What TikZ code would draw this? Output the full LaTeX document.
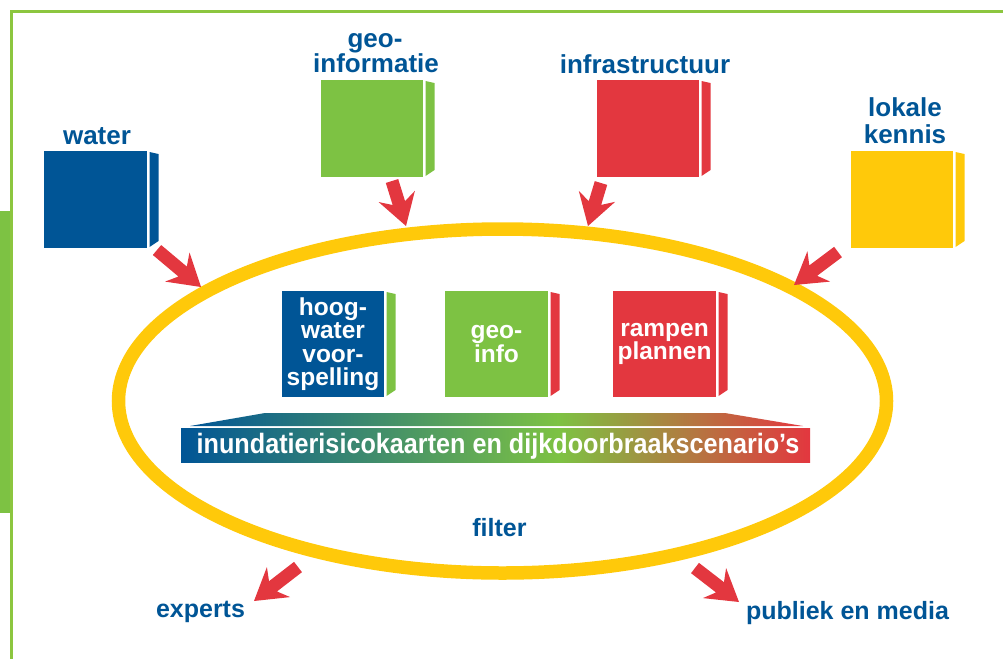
\documentclass[tikz,border=0pt]{standalone}
\usepackage{fontspec}
\setmainfont{Liberation Sans}
\usetikzlibrary{calc,shapes.geometric}
\definecolor{dblue}{HTML}{005596}
\definecolor{lgreen}{HTML}{7DC243}
\definecolor{rred}{HTML}{E3373F}
\definecolor{yyel}{HTML}{FFC90A}
\definecolor{framegreen}{HTML}{8CC63F}
\pgfdeclarehorizontalshading{bargrad}{100bp}{color(0bp)=(dblue); color(25bp)=(dblue); color(55bp)=(lgreen); color(75bp)=(rred); color(100bp)=(rred)}
\newcommand\mycube[8]{%
  \node[cubefront, fill=#6, minimum width=#4pt, minimum height=#5pt] (#1) at (#2,#3) {#8};
  \fill[#7] ($(#1.north east)+(2.5,1)$) -- ($(#1.north east)+(11.5,3)$) -- ($(#1.south east)+(11.5,-7)$) -- ($(#1.south east)+(2.5,-1)$) -- cycle;}
\newcommand\redarrow[2]{%
  \fill[rred] ($(#1)!6.5pt!90:(#2)$) -- ($(#2)!24pt!(#1)!6.5pt!-90:(#1)$) -- ($(#2)!31pt!(#1)!19pt!-90:(#1)$) -- (#2) -- ($(#2)!31pt!(#1)!19pt!90:(#1)$) -- ($(#2)!24pt!(#1)!6.5pt!90:(#1)$) -- ($(#1)!6.5pt!-90:(#2)$) -- cycle;}
\begin{document}
\begin{tikzpicture}[x=1pt,y=-1pt,
  cubefront/.style={anchor=north west, inner sep=0pt, outer sep=0pt, text=white, align=center, font=\fontsize{24.5}{23.5}\selectfont\bfseries},
  toplbl/.style={text=dblue, inner sep=0pt, anchor=base, font=\fontsize{26}{26}\selectfont\bfseries},
  botlbl/.style={text=dblue, inner sep=0pt, anchor=base, font=\fontsize{25}{25}\selectfont\bfseries}]
\useasboundingbox (0,0) rectangle (1003,659);
% frame
\draw[framegreen, line width=2.5pt] (1003,11.5) -- (11.5,11.5) -- (11.5,659);
\fill[lgreen] (0,211) rectangle (10,513);
% ellipse filter
\node[ellipse, draw=yyel, line width=13.5pt, minimum width=768pt, minimum height=344pt, inner sep=0pt] (filt) at (502.5,401) {};
% outer cubes
\mycube{water}{44}{151}{103}{97}{dblue}{dblue}{}
\mycube{geoinf}{321}{80}{102}{97}{lgreen}{lgreen}{}
\mycube{infra}{597}{80}{102}{97}{rred}{rred}{}
\mycube{lokaal}{851}{151}{102}{97}{yyel}{yyel}{}
% inner cubes
\mycube{hoog}{282}{291}{102}{106}{dblue}{lgreen}{hoog-\\water\\voor-\\spelling}
\mycube{geoinfo}{445}{291}{103}{106}{lgreen}{rred}{geo-\\info}
\mycube{rampen}{613}{291}{103}{106}{rred}{rred}{rampen\\plannen}
% labels
\node[toplbl] (lwater) at (97,144) {water};
\node[toplbl] (lgeo1) at (375,47.5) {geo-};
\node[toplbl] (lgeo2) at (376,72.5) {informatie};
\node[toplbl] (linfra) at (645,73) {infrastructuur};
\node[toplbl] (llok1) at (905,116) {lokale};
\node[toplbl] (llok2) at (905,143) {kennis};
\node[botlbl] (lexp) at (200.5,617) {experts};
\node[botlbl] (lpub) at (847.5,619) {publiek en media};
\node[botlbl] (lfilt) at (499.5,536) {filter};
% gradient bar
\shade[shading=bargrad] (190,426) -- (265,413) -- (725,413) -- (803,426) -- cycle;
\node[shade, shading=bargrad, anchor=north west, inner sep=0pt, minimum width=629pt, minimum height=33.5pt] (bar) at (181,428.5) {};
\node[anchor=base, inner sep=0pt, text=white, font=\fontsize{28}{28}\selectfont\bfseries] (bartext) at (498,453) {\scalebox{0.9}[1]{inundatierisicokaarten en dijkdoorbraakscenario’s}};
% arrows
\coordinate (a1s) at (157,250); \coordinate (a1t) at (201,287);
\coordinate (a2s) at (392,181); \coordinate (a2t) at (406,226);
\coordinate (a3s) at (601,183); \coordinate (a3t) at (588,226);
\coordinate (a4s) at (838,252); \coordinate (a4t) at (794,285);
\coordinate (a5s) at (298,567); \coordinate (a5t) at (254,601);
\coordinate (a6s) at (695,568); \coordinate (a6t) at (739,602);
\redarrow{a1s}{a1t}
\redarrow{a2s}{a2t}
\redarrow{a3s}{a3t}
\redarrow{a4s}{a4t}
\redarrow{a5s}{a5t}
\redarrow{a6s}{a6t}
\end{tikzpicture}
\end{document}
